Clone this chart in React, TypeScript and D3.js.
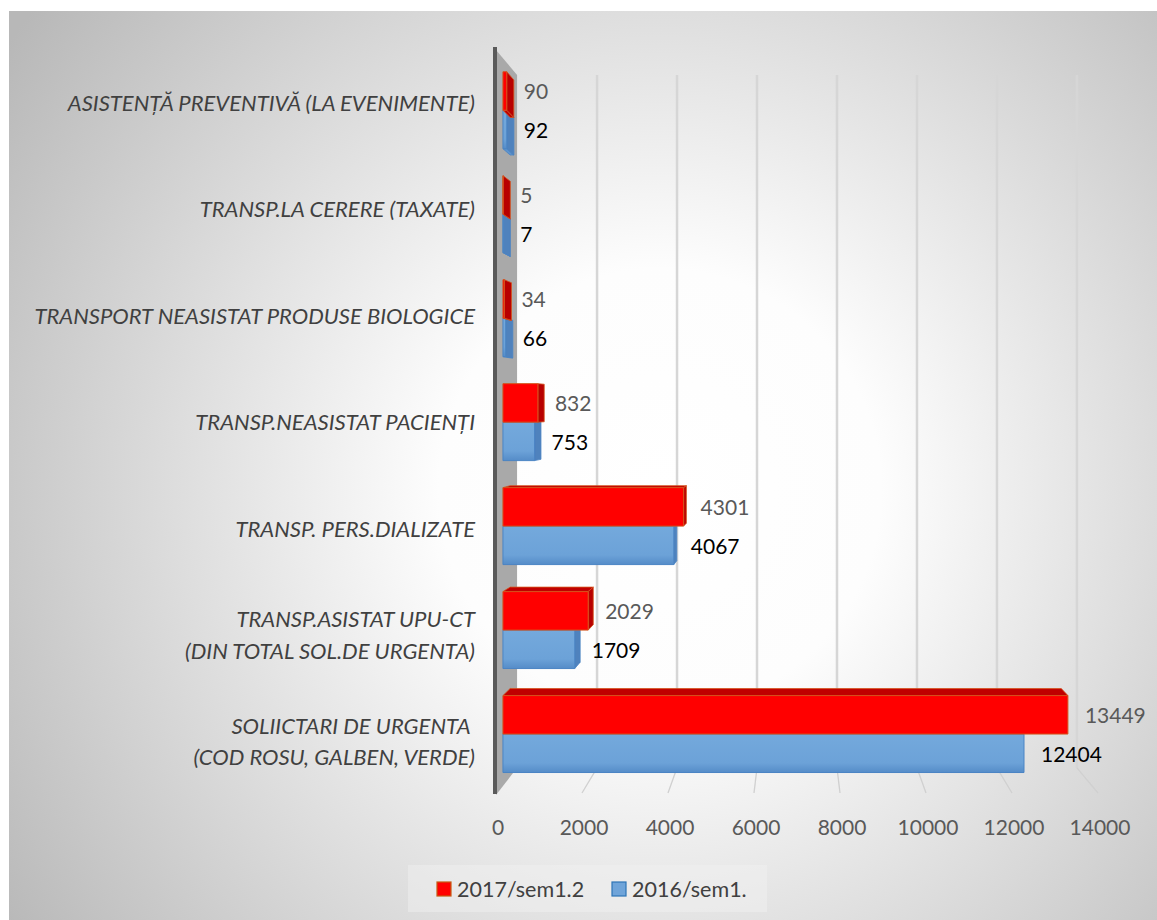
import { scaleBand, scaleLinear } from 'd3'

const categories = [
  'ASISTENȚĂ PREVENTIVĂ (LA EVENIMENTE)',
  'TRANSP.LA CERERE (TAXATE)',
  'TRANSPORT NEASISTAT PRODUSE BIOLOGICE',
  'TRANSP.NEASISTAT PACIENȚI',
  'TRANSP. PERS.DIALIZATE',
  'TRANSP.ASISTAT UPU-CT\n(DIN TOTAL SOL.DE URGENTA)',
  'SOLIICTARI DE URGENTA \n(COD ROSU, GALBEN, VERDE)',
]
const values2017 = [90, 5, 34, 832, 4301, 2029, 13449]
const values2016 = [92, 7, 66, 753, 4067, 1709, 12404]
const xTicks = [0, 2000, 4000, 6000, 8000, 10000, 12000, 14000]
const seriesNames = ['2017/sem1.2', '2016/sem1.']

const WIDTH = 1157
const HEIGHT = 920
const FONT = 'Lato, "Open Sans", sans-serif'

// perspective: vanishing point and depth shrink of the back plane
const VX = 797
const VY = 407
const DEPTH_SHRINK = 0.07
const BAR_FRONT = 0.33
const BAR_BACK = 0.67

type Pt = [number, number]

function project(x: number, y: number, t: number): Pt {
  const s = 1 - DEPTH_SHRINK * t
  return [VX + (x - VX) * s, VY + (y - VY) * s]
}

function poly(points: Pt[]): string {
  return points.map((p) => `${p[0].toFixed(2)},${p[1].toFixed(2)}`).join(' ')
}

type BoxProps = {
  readonly x0: number
  readonly x1: number
  readonly y0: number
  readonly y1: number
  readonly front: string
  readonly top: string
  readonly side: string
  readonly stroke: string
}

function Box({ x0, x1, y0, y1, front, top, side, stroke }: BoxProps) {
  const f = (x: number, y: number) => project(x, y, BAR_FRONT)
  const b = (x: number, y: number) => project(x, y, BAR_BACK)
  const faces: { key: string; pts: Pt[]; fill: string }[] = []
  if (y0 > VY) {
    faces.push({ key: 'top', pts: [f(x0, y0), f(x1, y0), b(x1, y0), b(x0, y0)], fill: top })
  }
  if (y1 < VY) {
    faces.push({ key: 'bottom', pts: [f(x0, y1), f(x1, y1), b(x1, y1), b(x0, y1)], fill: top })
  }
  if (x1 < VX) {
    faces.push({ key: 'right', pts: [f(x1, y0), f(x1, y1), b(x1, y1), b(x1, y0)], fill: side })
  }
  return (
    <g>
      {faces.map((face) => (
        <polygon
          key={face.key}
          points={poly(face.pts)}
          fill={face.fill}
          stroke={stroke}
          strokeWidth={0.8}
          strokeLinejoin="round"
        />
      ))}
      <polygon
        points={poly([f(x0, y0), f(x1, y0), f(x1, y1), f(x0, y1)])}
        fill={front}
        stroke={stroke}
        strokeWidth={1}
      />
    </g>
  )
}

export default function App() {
  const top = 50
  const bottom = 795
  const xScale = scaleLinear().domain([0, 14000]).range([496, 1098])
  const yScale = scaleBand<string>()
    .domain(categories)
    .range([top, bottom])
    .paddingInner(0.26)
    .paddingOuter(0.13)
  const barH = yScale.bandwidth() / 2

  return (
    <svg
      width={WIDTH}
      height={HEIGHT}
      viewBox={`0 0 ${WIDTH} ${HEIGHT}`}
      style={{ position: 'absolute', left: 0, top: 0 }}
      fontFamily={FONT}
    >
      <defs>
        <radialGradient id="bg" gradientUnits="userSpaceOnUse" cx={660} cy={490} r={790}>
          <stop offset="0" stopColor="#ffffff" />
          <stop offset="0.28" stopColor="#fdfdfd" />
          <stop offset="1" stopColor="#b8b8b8" />
        </radialGradient>
        <linearGradient id="blueFront" x1="0" y1="0" x2="0" y2="1">
          <stop offset="0" stopColor="#74a9dc" />
          <stop offset="0.75" stopColor="#6ca2d8" />
          <stop offset="1" stopColor="#558cc8" />
        </linearGradient>
      </defs>
      <rect x={0} y={0} width={WIDTH} height={HEIGHT} fill="#ffffff" />
      <rect x={9} y={11} width={WIDTH - 9} height={HEIGHT - 11} fill="url(#bg)" />

      {/* gridlines on back wall and floor */}
      {xTicks.slice(1).map((tick) => {
        const x = xScale(tick)
        const bt = project(x, top, 1)
        const bb = project(x, bottom, 1)
        return (
          <g key={tick} stroke="#d6d6d6" strokeWidth={2.5} fill="none">
            <line x1={bt[0]} y1={bt[1]} x2={bb[0]} y2={bb[1]} />
            <line x1={bb[0]} y1={bb[1]} x2={x} y2={bottom - 2} strokeWidth={1.3} stroke="#d0d0d0" />
          </g>
        )
      })}

      {/* side wall */}
      <polygon
        points={poly([
          [xScale(0), top],
          project(xScale(0), top, 1),
          project(xScale(0), bottom, 1),
          [xScale(0), bottom],
        ])}
        fill="#a9a9a9"
      />
      <rect x={xScale(0) - 3} y={top - 3} width={4} height={bottom - top + 2} fill="#5a5a5a" />

      {/* bars */}
      {categories.map((cat, i) => {
        const y0 = yScale(cat) ?? 0
        return (
          <g key={cat}>
            <Box
              x0={xScale(0)}
              x1={xScale(values2016[i])}
              y0={y0 + barH}
              y1={y0 + 2 * barH}
              front="url(#blueFront)"
              top="#5d93cd"
              side="#4f82bd"
              stroke="#4a84c4"
            />
            <Box
              x0={xScale(0)}
              x1={xScale(values2017[i])}
              y0={y0}
              y1={y0 + barH}
              front="#ff0000"
              top="#c00000"
              side="#b80000"
              stroke="#d4531c"
            />
          </g>
        )
      })}

      {/* value labels */}
      {categories.map((cat, i) => {
        const y0 = yScale(cat) ?? 0
        const red = project(xScale(values2017[i]), y0 + barH / 2, BAR_FRONT)
        const blue = project(xScale(values2016[i]), y0 + barH * 1.5, BAR_FRONT)
        return (
          <g key={cat} fontSize={21}>
            <text x={red[0] + 17} y={red[1] + 1} dy="0.35em" fill="#595959">
              {values2017[i]}
            </text>
            <text x={blue[0] + 17} y={blue[1] + 1} dy="0.35em" fill="#000000">
              {values2016[i]}
            </text>
          </g>
        )
      })}

      {/* category labels */}
      {categories.map((cat) => {
        const lines = cat.split('\n')
        const cy = (yScale(cat) ?? 0) + yScale.bandwidth() / 2
        const lineH = 31.5
        return (
          <text
            key={cat}
            x={475}
            textAnchor="end"
            fontSize={22}
            fontStyle="italic"
            fill="#404040"
            style={{ whiteSpace: 'pre' }}
          >
            {lines.map((line, j) => (
              <tspan key={j} x={475} y={cy + (j - (lines.length - 1) / 2) * lineH} dy="0.35em">
                {line}
              </tspan>
            ))}
          </text>
        )
      })}

      {/* x tick labels */}
      {xTicks.map((tick) => (
        <text
          key={tick}
          x={xScale(tick) + 2}
          y={828}
          dy="0.35em"
          textAnchor="middle"
          fontSize={21}
          fill="#595959"
        >
          {tick}
        </text>
      ))}

      {/* legend */}
      <rect x={408} y={865} width={359} height={47} fill="#f2f2f2" opacity={0.45} />
      {seriesNames.map((name, i) => {
        const lx = i === 0 ? 437 : 612
        return (
          <g key={name}>
            <rect
              x={lx}
              y={882}
              width={14}
              height={14}
              fill={i === 0 ? '#ff0000' : '#6fa4d9'}
              stroke={i === 0 ? '#c55a11' : '#2e75b6'}
              strokeWidth={1.2}
            />
            <text x={lx + 20} y={889} dy="0.35em" fontSize={21.5} fill="#404040">
              {name}
            </text>
          </g>
        )
      })}
    </svg>
  )
}
